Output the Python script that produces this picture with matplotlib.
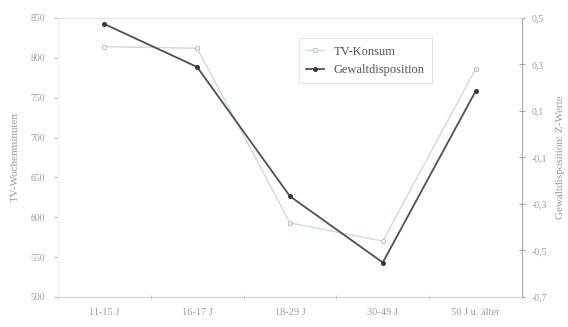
import matplotlib
matplotlib.use("Agg")
from matplotlib import pyplot as plt
import numpy as np

# data
groups = ["11-15 J", "16-17 J", "18-29 J", "30-49 J", "50 J u. älter"]
tv_minutes = [814, 812, 593, 570, 786]
violence_z = [0.474, 0.289, -0.267, -0.552, 0.185]

left_ticks = [500, 550, 600, 650, 700, 750, 800, 850]
right_ticks = [-0.7, -0.5, -0.3, -0.1, 0.1, 0.3, 0.5]
right_labels = ["-0,7", "-0,5", "-0,3", "-0,1", "0,1", "0,3", "0,5"]

plt.rcParams['font.family'] = ['Liberation Serif', 'DejaVu Serif']
txt = '#9a9a9a'
axc = '#c0c0c0'

fig = plt.figure(figsize=(5.68, 3.27), dpi=100)
ax = fig.add_axes([0.102, 0.092, 0.817, 0.853])
ax2 = ax.twinx()

x = np.arange(len(groups))

l1, = ax.plot(x, tv_minutes, color='#cdd9dc', lw=1.0, marker='o', ms=3,
              mfc='white', mec='#b0bcc0', mew=0.7, label='TV-Konsum')
l2, = ax2.plot(x, violence_z, color='#505050', lw=1.3, marker='o', ms=2.6,
               mfc='#3a3a3a', mec='#3a3a3a', label='Gewaltdisposition')

ax.set_xlim(-0.5, len(groups) - 0.5)
ax.set_ylim(500, 850)
ax2.set_ylim(-0.7, 0.5)

ax.set_xticks(x)
ax.set_xticklabels(groups, fontsize=7.5, color=txt)
ax.set_xticks(np.arange(-0.5, len(groups)), minor=True)
ax.tick_params(axis='x', which='major', length=0, pad=8)
ax.tick_params(axis='x', which='minor', length=3, color=axc, direction='inout')

ax.set_yticks(left_ticks)
ax.set_yticklabels([str(v) for v in left_ticks], fontsize=7, color=txt)
ax.tick_params(axis='y', length=3, color=axc, pad=6)

ax2.set_yticks(right_ticks)
ax2.set_yticklabels(right_labels, fontsize=7, color=txt)
ax2.tick_params(axis='y', length=4, color='#a0a0a0', direction='inout', pad=5)

for a in (ax, ax2):
    for s in a.spines.values():
        s.set_color('#e4e4e4')
        s.set_linewidth(0.8)
ax2.spines['right'].set_color('#a8a8a8')
ax2.spines['bottom'].set_color('#d2d2d2')
ax2.spines['left'].set_color('#f0f0f0')

ax.set_ylabel('TV-Wochenminuten', fontsize=8, color=txt, labelpad=8)
ax2.set_ylabel('Gewaltdisposition: Z-Werte', fontsize=8, color=txt,
               rotation=90, labelpad=6)

leg = ax.legend([l1, l2], ['TV-Konsum', 'Gewaltdisposition'],
                loc='upper left', bbox_to_anchor=(0.505, 0.95),
                fontsize=9, frameon=True, fancybox=False,
                handlelength=1.4, borderpad=0.6, labelspacing=0.5)
leg.get_frame().set_edgecolor('#dadada')
leg.get_frame().set_linewidth(0.7)
for t in leg.get_texts():
    t.set_color('#555555')

fig.savefig('out.png', dpi=100)
